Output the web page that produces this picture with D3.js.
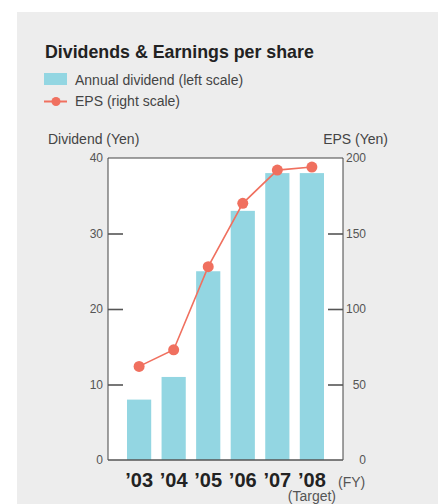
<!DOCTYPE html>
<html><head><meta charset="utf-8">
<script src="https://cdn.jsdelivr.net/npm/d3@7"></script>
<style>
html,body{margin:0;padding:0;background:#fff;}
svg{display:block;font-family:"Liberation Sans",Arial,Helvetica,sans-serif;}
</style></head>
<body>
<script>
const categories = ["’03","’04","’05","’06","’07","’08"];
const dividends = [8, 11, 25, 33, 38, 38];
const eps = [62, 73, 128, 170, 192, 194];
const leftTicks = [0, 10, 20, 30, 40];
const rightTicks = [0, 50, 100, 150, 200];

const W = 438, H = 504;
const svg = d3.select("body").append("svg").attr("width", W).attr("height", H);

const barColor = "#93d6e2", lineColor = "#f0705f";

svg.append("rect").attr("x", 17).attr("y", 12).attr("width", W - 17).attr("height", H - 12).attr("fill", "#ededed");

// title and legend
svg.append("text").attr("x", 45).attr("y", 58).attr("font-size", 17.8).attr("font-weight", "bold")
  .attr("fill", "#222").text("Dividends & Earnings per share");
svg.append("rect").attr("x", 44).attr("y", 73).attr("width", 23).attr("height", 12).attr("fill", barColor);
svg.append("text").attr("x", 75).attr("y", 85).attr("font-size", 14).attr("fill", "#444").text("Annual dividend (left scale)");
svg.append("line").attr("x1", 44).attr("x2", 67).attr("y1", 101.5).attr("y2", 101.5).attr("stroke", lineColor).attr("stroke-width", 2);
svg.append("circle").attr("cx", 56).attr("cy", 101.5).attr("r", 4.5).attr("fill", lineColor);
svg.append("text").attr("x", 75).attr("y", 106).attr("font-size", 14).attr("fill", "#444").text("EPS (right scale)");

svg.append("text").attr("x", 48).attr("y", 144).attr("font-size", 14).attr("fill", "#444").text("Dividend (Yen)");
svg.append("text").attr("x", 388).attr("y", 144).attr("font-size", 14).attr("fill", "#444").attr("text-anchor", "end").text("EPS (Yen)");

const x0 = 108, x1 = 343, yTop = 158, yBot = 460;
const x = d3.scaleBand().domain(categories).range([x0, x1]).paddingInner(0.3).paddingOuter(0.55);
const yL = d3.scaleLinear().domain([0, 40]).range([yBot, yTop]);
const yR = d3.scaleLinear().domain([0, 200]).range([yBot, yTop]);

svg.append("rect").attr("x", x0).attr("y", yTop).attr("width", x1 - x0).attr("height", yBot - yTop).attr("fill", "#fff");

svg.append("g").selectAll("rect").data(dividends).join("rect")
  .attr("x", (d, i) => x(categories[i])).attr("width", x.bandwidth())
  .attr("y", d => yL(d)).attr("height", d => yL(0) - yL(d)).attr("fill", barColor);

// frame
svg.append("path").attr("d", `M${x0},${yBot}V${yTop}H${x1}V${yBot}`).attr("fill", "none").attr("stroke", "#444").attr("stroke-width", 1);
svg.append("line").attr("x1", x0).attr("x2", x1).attr("y1", yBot).attr("y2", yBot).attr("stroke", "#555").attr("stroke-width", 1.6);

// left axis
const gL = svg.append("g").attr("transform", `translate(${x0},0)`)
  .call(d3.axisLeft(yL).tickValues(leftTicks).tickSize(-15).tickPadding(5).tickFormat(d3.format("d")));
gL.select(".domain").remove();
gL.selectAll(".tick line").attr("stroke", "#555").attr("stroke-width", 1.6)
  .attr("display", d => (d === 0 || d === 40) ? "none" : null);
gL.selectAll(".tick text").attr("font-size", 12).attr("fill", "#555").attr("font-family", null);

// right axis
const gR = svg.append("g").attr("transform", `translate(${x1},0)`)
  .call(d3.axisRight(yR).tickValues(rightTicks).tickSize(-15).tickFormat(d3.format("d")));
gR.select(".domain").remove();
gR.selectAll(".tick line").attr("stroke", "#555").attr("stroke-width", 1.6)
  .attr("display", d => (d === 0 || d === 200) ? "none" : null);
gR.selectAll(".tick text").attr("font-size", 12).attr("fill", "#555").attr("font-family", null)
  .attr("text-anchor", "end").attr("x", 23);

// bottom categories
const gB = svg.append("g").attr("transform", `translate(0,${yBot})`)
  .call(d3.axisBottom(x).tickSize(0).tickPadding(0));
gB.select(".domain").remove();
gB.selectAll(".tick text").attr("font-size", 20).attr("font-weight", "bold").attr("fill", "#222")
  .attr("font-family", null).attr("dy", null).attr("y", 27);
svg.append("text").attr("x", 338).attr("y", 487).attr("font-size", 14).attr("fill", "#555").text("(FY)");
svg.append("text").attr("x", x(categories[5]) + x.bandwidth() / 2).attr("y", 500.5).attr("font-size", 14)
  .attr("fill", "#555").attr("text-anchor", "middle").text("(Target)");

// EPS line
const line = d3.line().x((d, i) => x(categories[i]) + x.bandwidth() / 2).y(d => yR(d));
svg.append("path").datum(eps).attr("d", line).attr("fill", "none").attr("stroke", lineColor).attr("stroke-width", 1.6);
svg.append("g").selectAll("circle").data(eps).join("circle")
  .attr("cx", (d, i) => x(categories[i]) + x.bandwidth() / 2).attr("cy", d => yR(d)).attr("r", 5.5).attr("fill", lineColor);
</script>
</body></html>
